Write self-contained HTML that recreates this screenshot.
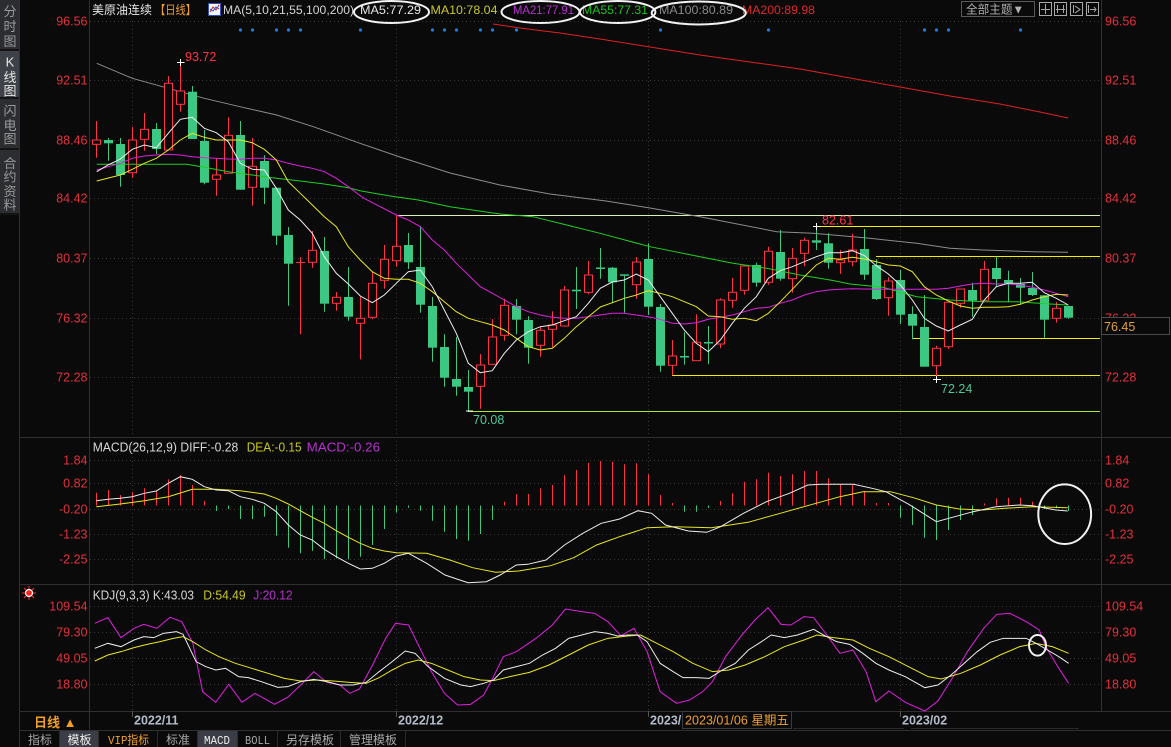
<!DOCTYPE html>
<html><head><meta charset="utf-8">
<style>
html,body{margin:0;padding:0;background:#0a0a0a;overflow:hidden;}
svg{display:block;}
text{font-family:"Liberation Sans","Noto Sans CJK SC",sans-serif;}
.ax{font-size:12.5px;fill:#e4303c;}
.axl{text-anchor:end;}
.sb{font-size:13px;text-anchor:middle;fill:#9a9a9a;}
.dt{font-size:12.5px;font-weight:bold;fill:#b4bccb;}
.tab{font-size:12px;fill:#a8a8a8;}
</style></head><body>
<svg width="1171" height="747" viewBox="0 0 1171 747" xmlns="http://www.w3.org/2000/svg">
<rect width="1171" height="747" fill="#0a0a0a"/>

<!-- sidebar -->
<rect x="0" y="0" width="19" height="213" fill="#2b2d31"/>
<rect x="0" y="51" width="19" height="46" fill="#3e4148"/>
<rect x="0" y="49" width="19" height="2" fill="#141414"/>
<rect x="0" y="97" width="19" height="2" fill="#141414"/>
<rect x="0" y="148" width="19" height="2" fill="#141414"/>
<rect x="0" y="213" width="19" height="2" fill="#141414"/>
<line x1="19.5" y1="0" x2="19.5" y2="747" stroke="#303030"/>
<text class="sb" x="10" y="16">分</text>
<text class="sb" x="10" y="31">时</text>
<text class="sb" x="10" y="46">图</text>
<text class="sb" x="10" y="66.5" style="fill:#e6e6e6">K</text>
<text class="sb" x="10" y="82" style="fill:#e6e6e6">线</text>
<text class="sb" x="10" y="95.5" style="fill:#e6e6e6">图</text>
<text class="sb" x="10" y="115.5">闪</text>
<text class="sb" x="10" y="130">电</text>
<text class="sb" x="10" y="143.5">图</text>
<text class="sb" x="10" y="168">合</text>
<text class="sb" x="10" y="181.5">约</text>
<text class="sb" x="10" y="196">资</text>
<text class="sb" x="10" y="209.5">料</text>

<!-- grid -->
<g stroke="#383838" stroke-dasharray="1 3" fill="none">
<path d="M90 21.5H1100M90 80.5H1100M90 140.5H1100M90 198.5H1100M90 258.5H1100M90 318.5H1100M90 377.5H1100"/>
<path d="M90 460.5H1100M90 483.5H1100M90 509.5H1100M90 534.5H1100M90 559.5H1100"/>
<path d="M90 606.5H1100M90 632.5H1100M90 658.5H1100M90 684.5H1100"/>
<path d="M132.5 21V711M396.5 21V711M648.5 21V711M900.5 21V711"/>
</g>

<!-- panel borders -->
<path d="M89.5 0V730M1101.5 0V711M20 437.5H1171M20 584.5H1171M20 711.5H1171M20 730.5H1171" stroke="#303030" fill="none"/>
<path d="M132.5 711V717M396.5 711V717M648.5 711V717M900.5 711V717" stroke="#555"/>

<!-- header -->
<text x="92" y="14" font-size="12" fill="#e8e8e8">美原油连续</text>
<text x="155" y="14" font-size="12" fill="#f0a030" textLength="41" lengthAdjust="spacingAndGlyphs">【日线】</text>
<rect x="208.5" y="3.5" width="12" height="12" fill="#f4f4f4" stroke="#3050c0"/>
<polyline points="210,12 213,7 216,10 219,5" fill="none" stroke="#d02020"/>
<polyline points="210,9 213,11 216,7 219,9" fill="none" stroke="#2050d0"/>
<text x="223" y="14" font-size="12" fill="#d4d4d4" textLength="131" lengthAdjust="spacingAndGlyphs">MA(5,10,21,55,100,200)</text>
<text x="360" y="14" font-size="12" fill="#e6e6e6" textLength="61" lengthAdjust="spacingAndGlyphs">MA5:77.29</text>
<text x="430.5" y="14" font-size="12" fill="#c8c828" textLength="67" lengthAdjust="spacingAndGlyphs">MA10:78.04</text>
<text x="513" y="14" font-size="12" fill="#b830d0" textLength="61" lengthAdjust="spacingAndGlyphs">MA21:77.91</text>
<text x="582" y="14" font-size="12" fill="#20c020" textLength="66" lengthAdjust="spacingAndGlyphs">MA55:77.31</text>
<text x="659" y="14" font-size="12" fill="#8a8a8a" textLength="74" lengthAdjust="spacingAndGlyphs">MA100:80.89</text>
<text x="742" y="14" font-size="12" fill="#e02828" textLength="73" lengthAdjust="spacingAndGlyphs">MA200:89.98</text>
<g fill="none" stroke="#f2f2f2" stroke-width="2">
<ellipse cx="391.5" cy="12" rx="37.5" ry="11"/>
<ellipse cx="540.5" cy="12" rx="39" ry="11"/>
<ellipse cx="617.7" cy="12" rx="37.7" ry="11"/>
<ellipse cx="698.7" cy="13" rx="47" ry="11.5"/>
</g>
<rect x="961.5" y="1.5" width="73" height="15" fill="none" stroke="#5a5a5a"/>
<text x="966" y="13.5" font-size="12" fill="#b0b0b0" textLength="58" lengthAdjust="spacingAndGlyphs">全部主题▼</text>
<g fill="none" stroke="#a8a8a8">
<rect x="1039.5" y="2.5" width="12" height="13"/>
<rect x="1054.5" y="2.5" width="12" height="13"/>
<rect x="1070.5" y="2.5" width="12" height="13"/>
<rect x="1086.5" y="2.5" width="12" height="13"/>
<path d="M1045.5 4V14M1041 9.5H1050M1057.5 5V13M1063.5 5V13M1056 9.5H1065M1073.5 5V13M1075 6L1080 9.5L1075 13M1088.5 5V13M1090 9.5H1096M1094 7L1096 9.5L1094 12"/>
</g>
<g fill="#1e80dc">
<circle cx="240.5" cy="30" r="1.6"/><circle cx="252.5" cy="30" r="1.6"/><circle cx="276.5" cy="30" r="1.6"/><circle cx="288.5" cy="30" r="1.6"/><circle cx="300.5" cy="30" r="1.6"/><circle cx="360.5" cy="30" r="1.6"/><circle cx="432.5" cy="30" r="1.6"/><circle cx="444.5" cy="30" r="1.6"/><circle cx="456.5" cy="30" r="1.6"/><circle cx="480.5" cy="30" r="1.6"/><circle cx="492.5" cy="30" r="1.6"/><circle cx="516.5" cy="30" r="1.6"/><circle cx="660.5" cy="30" r="1.6"/><circle cx="768.5" cy="30" r="1.6"/><circle cx="924.5" cy="30" r="1.6"/><circle cx="936.5" cy="30" r="1.6"/><circle cx="948.5" cy="30" r="1.6"/><circle cx="1020.5" cy="30" r="1.6"/>
</g>

<!-- price axis labels -->
<g class="ax">
<text class="axl" x="87.5" y="25.5">96.56</text>
<text class="axl" x="87.5" y="84.5">92.51</text>
<text class="axl" x="87.5" y="144.5">88.46</text>
<text class="axl" x="87.5" y="202.5">84.42</text>
<text class="axl" x="87.5" y="262.5">80.37</text>
<text class="axl" x="87.5" y="322.5">76.32</text>
<text class="axl" x="87.5" y="381.5">72.28</text>
<text x="1105" y="25.5">96.56</text>
<text x="1105" y="84.5">92.51</text>
<text x="1105" y="144.5">88.46</text>
<text x="1105" y="202.5">84.42</text>
<text x="1105" y="262.5">80.37</text>
<text x="1105" y="322.5">76.32</text>
<text x="1105" y="381.5">72.28</text>
</g>
<rect x="1101.5" y="317.5" width="68" height="17" fill="#0a0a0a" stroke="#4a4a4a"/>
<text x="1104" y="331" font-size="12.5" fill="#e0a040">76.45</text>

<!-- level lines -->
<path d="M396 215.5H1100" stroke="#dcefb4" fill="none"/>
<path d="M468 411.5H1100" stroke="#a8e830" fill="none"/>
<path d="M816 226.5H1100M876 256.5H1100M912 338.5H1100M672 375.5H1100" stroke="#f0f000" fill="none"/>

<!-- MA100 / MA200 -->
<polyline fill="none" stroke="#8c8c8c" points="96.7,63.3 132.3,78.3 168.3,88.3 204.3,98.3 240,106.7 276.7,115 313.3,126.7 360,143.3 400,157 450,173 500,185 550,194 606,201 650,208 700,216.7 776.7,231.7 813,233.3 870,238.3 916.7,243.3 950,248.3 983,250 1033,251.7 1068,252.3"/>
<polyline fill="none" stroke="#e02020" points="493,24 520,28 560,33 600,39 650,47 700,55 750,62 800,69 850,78 900,87 950,96 1000,104 1040,112 1068,118"/>

<!-- candles: wicks -->
<path fill="none" stroke="#ff3346" d="M96.5 121V157.7M132.5 127V177.7M144.5 113V150.7M168.5 76V150M180.5 62.3V111.7M216.5 158V195.7M228.5 117.3V173.3M252.5 138V205.7M300.5 257.3V334.3M312.5 231V267.7M336.5 292V310.7M360.5 296.7V359.3M372.5 272.3V319.3M384.5 245V288.7M396.5 215V266.7M480.5 354V408.7M492.5 319V365M504.5 298.7V340.7M540.5 326.7V356.7M552.5 311.3V347.3M564.5 286V326.7M588.5 261V294.3M636.5 257V298.7M672.5 340V375.3M696.5 314.3V360.7M720.5 298.3V348.3M732.5 278V307.7M744.5 266V294.7M768.5 246.7V284.7M792.5 248V292.7M804.5 237.7V266.3M840.5 250V273.7M852.5 233.7V266.3M888.5 277.3V315.7M936.5 345.7V380M948.5 302.3V349M960.5 289V307.7M984.5 261V300.3M1056.5 302V322.7M296 262.5H305"/>
<path fill="none" stroke="#3cc882" d="M108.5 138V160.7M120.5 138V186.7M156.5 123V154M192.5 86V139M204.5 130V184.3M240.5 121V189.7M264.5 155.3V204M276.5 187.7V245M288.5 227V305.7M324.5 237V311.7M348.5 267V320.7M408.5 233V269M420.5 226V312.7M432.5 297V361.7M444.5 334.3V386.7M456.5 337V395.7M468.5 370V411M516.5 299V334.3M528.5 316.3V363.7M576.5 267V309M600.5 248V278.7M612.5 267V303.3M624.5 274.7V312.7M648.5 243.3V315M660.5 304V371.7M684.5 332.3V364.7M708.5 326V364.3M756.5 262.7V286.7M780.5 230V280.7M816.5 226.7V250M828.5 233.3V268.7M864.5 229V279.7M876.5 259.3V300M900.5 270V324M912.5 306.3V339.3M924.5 295V366.7M972.5 282.7V316.7M996.5 256.7V287.3M1008.5 270.7V302.3M1020.5 278V304.7M1032.5 272V296M1044.5 295.3V337.7M1068.5 306V318.7"/>
<!-- red bodies (hollow) -->
<g fill="#0a0a0a" stroke="#ff3346">
<rect x="92.5" y="140" width="8" height="4.3"/>
<rect x="128.5" y="140" width="8" height="32.7"/>
<rect x="140.5" y="129.3" width="8" height="10"/>
<rect x="164.5" y="83.3" width="8" height="66.7"/>
<rect x="176.5" y="91" width="8" height="13.3"/>
<rect x="212.5" y="175" width="8" height="4.3"/>
<rect x="224.5" y="135.3" width="8" height="38"/>
<rect x="248.5" y="166.3" width="8" height="21"/>
<rect x="308.5" y="250.3" width="8" height="12"/>
<rect x="332.5" y="297.3" width="8" height="6"/>
<rect x="356.5" y="318.3" width="8" height="5"/>
<rect x="368.5" y="283.3" width="8" height="34"/>
<rect x="380.5" y="259.3" width="8" height="21"/>
<rect x="392.5" y="246.3" width="8" height="14.4"/>
<rect x="476.5" y="365" width="8" height="21.3"/>
<rect x="488.5" y="337" width="8" height="27.3"/>
<rect x="500.5" y="305.3" width="8" height="30"/>
<rect x="536.5" y="330.3" width="8" height="15"/>
<rect x="548.5" y="325" width="8" height="4.3"/>
<rect x="560.5" y="290" width="8" height="36"/>
<rect x="584.5" y="275" width="8" height="17.3"/>
<rect x="632.5" y="262" width="8" height="22.7"/>
<rect x="668.5" y="356" width="8" height="9.3"/>
<rect x="692.5" y="342.3" width="8" height="18.4"/>
<rect x="716.5" y="300" width="8" height="44"/>
<rect x="728.5" y="292.3" width="8" height="8"/>
<rect x="740.5" y="266" width="8" height="24.3"/>
<rect x="764.5" y="251.3" width="8" height="31"/>
<rect x="788.5" y="258.3" width="8" height="20.4"/>
<rect x="800.5" y="240.3" width="8" height="13"/>
<rect x="836.5" y="260" width="8" height="2.7"/>
<rect x="848.5" y="250" width="8" height="11.7"/>
<rect x="884.5" y="281" width="8" height="16.7"/>
<rect x="932.5" y="348.3" width="8" height="17.4"/>
<rect x="944.5" y="302.3" width="8" height="44.4"/>
<rect x="956.5" y="289" width="8" height="14.3"/>
<rect x="980.5" y="269.3" width="8" height="31"/>
<rect x="1052.5" y="308.3" width="8" height="10"/>
</g>
<!-- green bodies -->
<g fill="#3cc882">
<rect x="104" y="140" width="9" height="3.3"/>
<rect x="116" y="144" width="9" height="31"/>
<rect x="152" y="129" width="9" height="20"/>
<rect x="188" y="91.7" width="9" height="47.3"/>
<rect x="200" y="141" width="9" height="41.7"/>
<rect x="236" y="135" width="9" height="54.7"/>
<rect x="260" y="161" width="9" height="26.7"/>
<rect x="272" y="187.7" width="9" height="48"/>
<rect x="284" y="235" width="9" height="28.7"/>
<rect x="320" y="251" width="9" height="52.7"/>
<rect x="344" y="297" width="9" height="19.7"/>
<rect x="404" y="245" width="9" height="17.3"/>
<rect x="416" y="267" width="9" height="37.7"/>
<rect x="428" y="306" width="9" height="41.7"/>
<rect x="440" y="347" width="9" height="30.7"/>
<rect x="452" y="379" width="9" height="7.7"/>
<rect x="464" y="387" width="9" height="4.7"/>
<rect x="512" y="306" width="9" height="13.7"/>
<rect x="524" y="320" width="9" height="27.7"/>
<rect x="572" y="289.7" width="9" height="1.6"/>
<rect x="596" y="267.5" width="9" height="1.5"/>
<rect x="608" y="267.7" width="9" height="14.6"/>
<rect x="620" y="274.3" width="9" height="1.5"/>
<rect x="644" y="259" width="9" height="47.7"/>
<rect x="656" y="307" width="9" height="58.7"/>
<rect x="680" y="356" width="9" height="1.5"/>
<rect x="704" y="342" width="9" height="1.5"/>
<rect x="752" y="265" width="9" height="17.7"/>
<rect x="776" y="252" width="9" height="26.7"/>
<rect x="812" y="240.3" width="9" height="2.4"/>
<rect x="824" y="243.3" width="9" height="19.4"/>
<rect x="860" y="249" width="9" height="25.7"/>
<rect x="872" y="265" width="9" height="34"/>
<rect x="896" y="280" width="9" height="34.7"/>
<rect x="908" y="314" width="9" height="11.7"/>
<rect x="920" y="327" width="9" height="39.7"/>
<rect x="968" y="290" width="9" height="10.7"/>
<rect x="992" y="268" width="9" height="11"/>
<rect x="1004" y="280" width="9" height="3.3"/>
<rect x="1016" y="284" width="9" height="3.7"/>
<rect x="1028" y="288" width="9" height="7"/>
<rect x="1040" y="295.3" width="9" height="24.4"/>
<rect x="1064" y="306" width="9" height="11.7"/>
</g>

<!-- MA lines -->
<polyline fill="none" stroke="#20d020" points="96.7,164.3 186.7,164.3 204.3,167.3 228.3,171.7 252.3,175 276.3,178.3 300.3,181 324.3,184 348.3,187.7 360,190.7 390,196 418.3,200 450,206.7 500,214 533,216.7 566.7,225 600,233.3 650,246.7 700,256.7 733,263.3 766.7,268.3 800,275 833,280.5 850,284 883,287.3 916.7,296.7 950,300 983.3,301.7 1016.7,301.7 1050,304 1068.3,305"/>
<polyline fill="none" stroke="#e020e0" points="96.7,170 120.3,163.3 132.3,158.3 144.3,156 156.3,155 168.3,154.3 180.3,155 192.3,156.7 204.3,157.7 216.3,158.3 228.3,159 240.3,159.3 252.3,158.3 264.3,158.3 276.3,160 288.3,163.3 300.3,166 312.3,168.3 324.3,171.7 336.3,178.3 348.3,186.7 363.3,198 396.3,215 408.3,220 420.3,226.7 432.3,240 444.3,250 456.3,263.3 468.3,275 480.3,286.7 492.3,293.3 504.3,300 516.3,306.7 528.3,311.7 540.3,315 552.3,317.3 564.3,318.3 576.3,318.3 588.3,316.7 600.3,315 612.3,313.3 624.3,313.3 636.3,315 648.3,316.7 660.3,319.3 672.3,323.3 684.3,324 696.3,322.7 708.3,319.3 720.3,317.3 732.3,315 744.3,311.7 756.3,308.3 768.3,307.3 780.3,303.3 792.3,300 804.3,295 816.3,291.7 828.3,290 840.3,289.3 852.3,288.7 864.3,289 900.3,289.3 936.3,289.3 948.3,288.3 960.3,286 972.3,284 984.3,283.3 996.3,284 1008.3,284 1020.3,285 1032.3,287.3 1044.3,290 1056.3,293.3 1068.3,296.7"/>
<polyline fill="none" stroke="#e8e820" points="96.7,181 120.3,175 132.3,169.3 144.3,163.3 156.3,158.3 168.3,150 180.3,140 192.3,133.3 204.3,137.3 216.3,140 228.3,140 240.3,140 252.3,142.7 264.3,149.3 276.3,160 288.3,181.7 300.3,193.3 312.3,205 324.3,216.7 336.3,226.7 348.3,246.7 360.3,260 372.3,271.7 384.3,278.3 396.3,279.3 408.3,279.3 420.3,283.3 432.3,291.7 444.3,301.7 456.3,311.7 468.3,318.3 480.3,321.7 492.3,325 504.3,330 516.3,338.3 528.3,346.7 540.3,350 552.3,348.3 564.3,338.3 576.3,326.7 588.3,316.7 600.3,307 612.3,302.7 624.3,298.3 636.3,295 648.3,290.7 660.3,293.3 672.3,296.7 684.3,301.7 696.3,306.7 708.3,316 720.3,316.7 732.3,319.3 744.3,318.3 756.3,320.7 768.3,313.3 780.3,301.7 792.3,289.3 804.3,276.7 816.3,265 828.3,258.3 840.3,259.3 852.3,257.3 864.3,259 876.3,261.7 888.3,265 900.3,266 912.3,271.7 924.3,286.7 936.3,295 948.3,301 960.3,306 972.3,308.3 984.3,307.3 996.3,307.3 1008.3,306.7 1020.3,304.3 1032.3,300 1044.3,296.7 1056.3,294.3 1068.3,295"/>
<polyline fill="none" stroke="#eeeeee" points="96.7,171.7 108,165 120,159.3 132.3,149.3 144.3,145 156.3,147.7 168.3,133.3 180.3,119.3 192.3,117.3 204.3,128.3 216.3,132.7 228.3,141.7 240.3,163.3 252.3,169.3 264.3,170 276.3,188.3 288.3,210 300.3,220 312.3,233.3 324.3,256.7 336.3,273.3 348.3,284 360.3,296 372.3,302.7 384.3,295 396.3,283.3 408.3,271.7 420.3,270 432.3,286.7 444.3,310 456.3,333.3 468.3,363.3 480.3,372.7 492.3,370.7 504.3,353.3 516.3,340 528.3,331.7 540.3,326.7 552.3,325 564.3,320.7 576.3,316.7 588.3,303.3 600.3,288.3 612.3,282 624.3,280 636.3,274 648.3,280 660.3,296.7 672.3,313.3 684.3,330 696.3,343.3 708.3,351.7 720.3,340 732.3,323.3 744.3,308.3 756.3,296.7 768.3,278.3 780.3,270.7 792.3,266.7 804.3,261.7 816.3,256.7 828.3,252.7 840.3,252.7 852.3,250.7 864.3,255.5 876.3,265.7 888.3,274 900.3,285 912.3,300 924.3,318.3 936.3,326 948.3,331 960.3,325 972.3,319.3 984.3,300 996.3,286.7 1008.3,283.3 1020.3,283.3 1032.3,282.3 1044.3,292.7 1056.3,298.3 1068.3,305"/>

<!-- extreme markers -->
<path d="M177 62.5H184.5M180.5 59V66M813 226.5H820M816.5 223V230M466 411H473M933 379.5H941M936.5 376V383" stroke="#ffffff" fill="none"/>
<text x="185" y="61" font-size="12.5" fill="#ff3346">93.72</text>
<text x="822" y="224.5" font-size="12.5" fill="#ff3346">82.61</text>
<text x="473" y="424" font-size="12.5" fill="#4cc89a">70.08</text>
<text x="941" y="393" font-size="12.5" fill="#4cc89a">72.24</text>

<!-- MACD panel -->
<text x="92.7" y="451.5" font-size="12.5" fill="#d8d8d8" textLength="145.6" lengthAdjust="spacingAndGlyphs">MACD(26,12,9) DIFF:-0.28</text>
<text x="246.7" y="451.5" font-size="12.5" fill="#c8c828" textLength="55" lengthAdjust="spacingAndGlyphs">DEA:-0.15</text>
<text x="306.7" y="451.5" font-size="12.5" fill="#b830d0" textLength="73.3" lengthAdjust="spacingAndGlyphs">MACD:-0.26</text>
<g class="ax">
<text class="axl" x="87.5" y="464.5">1.84</text>
<text class="axl" x="87.5" y="487.5">0.82</text>
<text class="axl" x="87.5" y="513.5">-0.20</text>
<text class="axl" x="87.5" y="538.5">-1.23</text>
<text class="axl" x="87.5" y="563.5">-2.25</text>
<text x="1105" y="464.5">1.84</text>
<text x="1105" y="487.5">0.82</text>
<text x="1105" y="513.5">-0.20</text>
<text x="1105" y="538.5">-1.23</text>
<text x="1105" y="563.5">-2.25</text>
</g>
<path fill="none" stroke="#ff3346" d="M96.5 505.5V492.7M108.5 505.5V490M120.5 505.5V495M132.5 505.5V492.3M144.5 505.5V488.3M156.5 505.5V490.7M168.5 505.5V479.3M180.5 505.5V475M192.5 505.5V485M204.5 505.5V501M504.5 505.5V501.7M516.5 505.5V494.3M528.5 505.5V494M540.5 505.5V488.3M552.5 505.5V485M564.5 505.5V475M576.5 505.5V470M588.5 505.5V462.7M600.5 505.5V461M612.5 505.5V461.7M624.5 505.5V464.3M636.5 505.5V463.3M648.5 505.5V474.3M660.5 505.5V495M672.5 505.5V503M720.5 505.5V501M732.5 505.5V493.3M744.5 505.5V481.7M756.5 505.5V479.3M768.5 505.5V472.7M780.5 505.5V476M792.5 505.5V474.3M804.5 505.5V471M816.5 505.5V471M828.5 505.5V478.3M840.5 505.5V484.3M852.5 505.5V485M864.5 505.5V491M876.5 505.5V503M888.5 505.5V503M984.5 505.5V503.5M996.5 505.5V498.3M1008.5 505.5V497.7M1020.5 505.5V497.7M1032.5 505.5V501.7"/>
<path fill="none" stroke="#3cc882" d="M216.5 505.5V511M228.5 505.5V509M240.5 505.5V519M252.5 505.5V519M264.5 505.5V516.7M276.5 505.5V535.7M288.5 505.5V547.7M300.5 505.5V553.3M312.5 505.5V550.7M324.5 505.5V559M336.5 505.5V558.3M348.5 505.5V559.3M360.5 505.5V556.7M372.5 505.5V545M384.5 505.5V529M396.5 505.5V512.5M408.5 505.5V507.7M420.5 505.5V510.7M432.5 505.5V520.7M444.5 505.5V531.7M456.5 505.5V539M468.5 505.5V540.7M480.5 505.5V534M492.5 505.5V519.7M684.5 505.5V511.7M696.5 505.5V511.7M708.5 505.5V508M900.5 505.5V517.7M912.5 505.5V525M924.5 505.5V537.7M936.5 505.5V540M948.5 505.5V530M960.5 505.5V520M972.5 505.5V515M1044.5 505.5V509M1056.5 505.5V508.3M1068.5 505.5V511"/>
<polyline fill="none" stroke="#e8e820" points="96.3,506.7 120.3,504 144.3,500.7 168.3,496.7 192.3,489.3 216.3,489.3 240.3,490.7 264.3,494 276.3,498.3 288.3,504 300.3,510.7 312.3,517.3 324.3,523.3 336.3,530.7 348.3,537.3 360.3,543.3 372.3,548.3 384.3,551 396.3,552.7 426.7,553.3 449.7,560 472.6,567.7 495.6,572.3 518.6,571 550.7,565.7 573.7,557.7 596.6,545 619.6,536.7 647.1,527.7 674.7,526.7 711.4,527.7 748.1,522.3 780.3,513.3 812.4,504.3 839.9,496.7 862.9,491.7 890.4,491.7 913.4,497.7 936.4,505 959.3,509 982.3,510 1005.3,508.3 1032.8,506.7 1067.7,507.7"/>
<polyline fill="none" stroke="#eeeeee" points="96.3,500.7 108.3,499.3 120.3,498.3 132.3,496.7 144.3,493.3 156.3,491 168.3,483.3 180.3,476.7 192.3,479.3 204.3,486.7 216.3,490 228.3,490.7 240.3,496.7 252.3,499.3 264.3,503.3 276.3,511.7 288.3,525 300.3,535 312.3,540 324.3,549.3 336.3,556.7 348.3,563.3 360.3,569 372.3,568.3 384.3,563.3 396.3,556 408.4,553.3 426.7,563.3 445,575 468,582.7 486.4,581.7 500.2,575 516.3,565 527.7,564.3 546,560 564.5,545 582.8,533.3 601.2,523.3 619.6,519 637.9,510.7 651.7,513.3 665.5,525 688.4,531 706.8,532.3 720.6,526.7 743.5,513.3 766.5,501.7 789.4,493.3 807.8,485 821.6,484.3 853.7,484.3 872.1,488.3 885.9,491.7 908.8,504.3 936.4,521.7 954.7,516.7 973.1,511.7 996,506.7 1019,505 1032.8,505.7 1055.7,510 1067.7,511"/>
<ellipse cx="1064.7" cy="514.2" rx="26.4" ry="29.8" fill="none" stroke="#f2f2f2" stroke-width="2"/>

<!-- KDJ panel -->
<g>
<path d="M22 593H25M33 593H36M29 586V589M29 597V600M24 588L26 590M32 596L34 598M34 588L32 590M26 596L24 598" stroke="#ff3030"/>
<circle cx="29" cy="593" r="3.5" fill="#ff2020" stroke="#ffffff" stroke-width="1.2"/>
</g>
<text x="92.7" y="599.5" font-size="12.5" fill="#d8d8d8" textLength="101.3" lengthAdjust="spacingAndGlyphs">KDJ(9,3,3) K:43.03</text>
<text x="203.3" y="599.5" font-size="12.5" fill="#c8c828" textLength="42.3" lengthAdjust="spacingAndGlyphs">D:54.49</text>
<text x="253.3" y="599.5" font-size="12.5" fill="#b830d0" textLength="39.3" lengthAdjust="spacingAndGlyphs">J:20.12</text>
<g class="ax">
<text class="axl" x="87.5" y="610.5">109.54</text>
<text class="axl" x="87.5" y="636.5">79.30</text>
<text class="axl" x="87.5" y="662.5">49.05</text>
<text class="axl" x="87.5" y="688.5">18.80</text>
<text x="1105" y="610.5">109.54</text>
<text x="1105" y="636.5">79.30</text>
<text x="1105" y="662.5">49.05</text>
<text x="1105" y="688.5">18.80</text>
</g>
<g transform="translate(85 585) scale(0.65359 0.33333)" fill="none">
<polyline vector-effect="non-scaling-stroke" stroke="#e020e0" points="15,115 35,98 55,158 75,130 90,118 110,130 130,97 148,110 165,175 180,320 200,352 220,298 240,352 260,325 290,358 310,337 330,300 350,260 370,292 390,300 405,325 420,312 440,240 460,160 475,115 495,120 510,180 530,260 550,325 570,360 590,358 610,330 625,275 640,215 660,200 690,160 715,120 735,72 760,80 780,85 800,110 820,152 840,130 860,200 880,320 905,355 925,345 945,320 960,290 980,215 1005,150 1025,105 1045,68 1065,118 1080,120 1100,95 1115,98 1135,150 1155,205 1175,195 1195,260 1210,350 1230,318 1255,352 1285,378 1305,348 1330,270 1350,200 1375,130 1395,88 1415,85 1440,110 1460,135 1470,185 1490,250 1505,295"/>
<polyline vector-effect="non-scaling-stroke" stroke="#e8e820" points="15,228 35,210 55,200 75,188 95,178 115,170 135,160 150,155 165,170 185,195 205,215 230,235 255,250 280,265 305,280 330,288 355,285 380,288 405,292 430,295 450,278 470,255 490,235 510,225 530,235 555,255 580,275 605,285 625,287 650,275 680,262 710,240 740,210 770,180 800,160 830,153 850,150 870,170 900,200 930,235 960,260 985,255 1010,240 1040,215 1070,185 1100,165 1120,150 1145,158 1175,165 1200,190 1230,215 1260,245 1290,275 1310,282 1340,265 1370,240 1400,210 1430,185 1455,175 1480,185 1505,205"/>
<polyline vector-effect="non-scaling-stroke" stroke="#eeeeee" points="15,190 35,175 55,185 75,165 90,155 105,158 120,145 140,140 150,148 170,230 185,245 200,255 215,250 235,275 250,278 270,290 295,307 310,305 330,290 350,283 370,290 390,300 410,300 430,292 450,260 470,230 490,198 505,205 525,245 550,280 575,300 590,305 610,295 625,285 640,255 660,245 680,235 700,210 720,190 740,160 760,150 780,140 800,145 815,153 830,150 845,150 860,170 880,235 900,260 915,278 935,278 955,280 975,255 995,235 1015,195 1035,170 1050,150 1070,158 1090,150 1115,133 1130,150 1150,170 1170,178 1190,205 1210,235 1230,255 1255,275 1285,308 1305,300 1325,270 1345,235 1365,200 1385,172 1405,160 1440,160 1455,175 1470,192 1490,215 1505,235"/>
</g>
<ellipse cx="1037.5" cy="645.3" rx="8.5" ry="10.3" fill="none" stroke="#f2f2f2" stroke-width="2"/>

<!-- date axis -->
<text x="34" y="727" font-size="13" font-weight="bold" fill="#f0a028">日线 ▲</text>
<text class="dt" x="134" y="724.5">2022/11</text>
<text class="dt" x="398" y="724.5">2022/12</text>
<text class="dt" x="650" y="724.5">2023/</text>
<rect x="682.5" y="711.5" width="109" height="17" fill="#0a0a0a" stroke="#3a3a3a"/>
<text x="685" y="724.5" font-size="12.5" fill="#f0a030" textLength="104" lengthAdjust="spacingAndGlyphs">2023/01/06 星期五</text>
<text class="dt" x="902" y="724.5">2023/02</text>
<path d="M793 728.5H904M911 728.5H1079" stroke="#2a2a2a"/>

<!-- tab bar -->
<rect x="60" y="731" width="38.5" height="16" fill="#3a3d45"/>
<rect x="198" y="731" width="39" height="16" fill="#3a3d45"/>
<path d="M59.5 731V747M98.5 731V747M157.5 731V747M197.5 731V747M237.5 731V747M277.5 731V747M340.5 731V747M405.5 731V747" stroke="#2c2c2c"/>
<text class="tab" x="28" y="744">指标</text>
<text class="tab" x="67.5" y="744" style="fill:#f0f0f0">模板</text>
<text class="tab" x="108" y="744" style="fill:#f0a030" textLength="41" lengthAdjust="spacingAndGlyphs"><tspan font-family="Liberation Mono, monospace">VIP</tspan>指标</text>
<text class="tab" x="166" y="744">标准</text>
<text class="tab" x="204" y="744" style="fill:#f0f0f0;font-family:'Liberation Mono',monospace" textLength="26" lengthAdjust="spacingAndGlyphs">MACD</text>
<text class="tab" x="245" y="744" style="font-family:'Liberation Mono',monospace" textLength="25" lengthAdjust="spacingAndGlyphs">BOLL</text>
<text class="tab" x="286" y="744">另存模板</text>
<text class="tab" x="349" y="744">管理模板</text>
</svg>
</body></html>
